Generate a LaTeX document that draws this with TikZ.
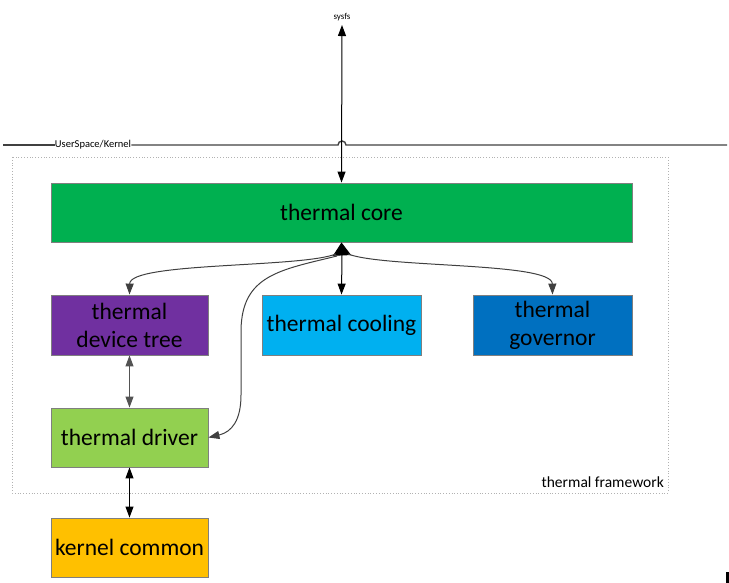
\documentclass[tikz,border=0pt]{standalone}
\usepackage{fontspec}
\setmainfont{Carlito}
\usetikzlibrary{arrows.meta}
\definecolor{cgreen}{HTML}{00B050}
\definecolor{cpurple}{HTML}{7030A0}
\definecolor{ccyan}{HTML}{00B0F0}
\definecolor{cblue}{HTML}{0070C0}
\definecolor{clgreen}{HTML}{92D050}
\definecolor{corange}{HTML}{FFC000}
\definecolor{edge}{HTML}{7F7F7F}
\definecolor{lineg}{HTML}{404040}
\begin{document}
\begin{tikzpicture}[x=1pt,y=-1pt,
  box/.style={draw=edge,line width=0.9pt,rectangle,inner sep=0pt,align=center,
    font=\fontsize{23.5}{28}\selectfont,text=black},
  conn/.style={line width=1pt,draw=lineg},
  tip/.style={-{Triangle[length=11pt,width=8pt]}},
  dtip/.style={{Triangle[length=11pt,width=8pt]}-{Triangle[length=11pt,width=8pt]}}
]
\useasboundingbox (0,0) rectangle (729,583);
% frame
\draw[gray!60,dotted,line width=0.8pt] (12,157) rectangle (668,493);
\node[anchor=south east,inner sep=0pt,font=\fontsize{15.5}{18}\selectfont] (fw) at (664,488) {thermal framework};
% userspace line
\node[inner sep=0pt,font=\fontsize{10.5}{12}\selectfont] (us) at (93,145) {UserSpace/Kernel};
\draw[lineg,line width=1.4pt] (3,145) -- (us.west);
\draw[lineg,line width=1.4pt] (us.east) -- (338,145) arc (180:360:4) -- (727,145);
% boxes
\node[box,fill=cgreen,minimum width=581pt,minimum height=59pt] (core) at (341.5,212.5) {thermal core};
\node[box,fill=cpurple,minimum width=157pt,minimum height=60pt] (dt) at (129.5,325) {thermal\\device tree};
\node[box,fill=ccyan,minimum width=159pt,minimum height=60pt] (cool) at (341.5,325) {thermal cooling};
\node[box,fill=cblue,minimum width=159pt,minimum height=60pt] (gov) at (552.5,325) {thermal\\governor};
\node[box,fill=clgreen,minimum width=157pt,minimum height=59pt] (drv) at (129.5,437.5) {thermal driver};
\node[box,fill=corange,minimum width=157pt,minimum height=59pt] (kc) at (129.5,547.5) {kernel common};
% sysfs
\node[inner sep=0pt,font=\fontsize{9}{10}\selectfont] (sysfs) at (342,17) {sysfs};
\draw[conn,draw=black,dtip] (core.north) -- ([yshift=-4pt]sysfs.south);
% hub
\coordinate (hub) at (342,255);
\draw[conn,draw=black,-{Triangle[length=13pt,width=18pt]}] (hub) -- (core.south);
\draw[conn,draw=black,tip] (hub) -- (cool.north);
\draw[conn,tip] (336,254) .. controls (300,268) and (130,262) .. (dt.north);
\draw[conn,tip] (348,254) .. controls (384,268) and (552,262) .. (gov.north);
\draw[conn,tip] (337,256) .. controls (280,270) and (242,275) .. (241,330) -- (241,395) .. controls (241,420) and (232,432) .. (drv.east);
% vertical links
\draw[conn,draw=lineg!90,dtip] (dt.south) -- (drv.north);
\draw[conn,draw=black,dtip] (drv.south) -- (kc.north);
% corner mark
\fill[black] (726,572) rectangle (728.5,583);
\end{tikzpicture}
\end{document}
